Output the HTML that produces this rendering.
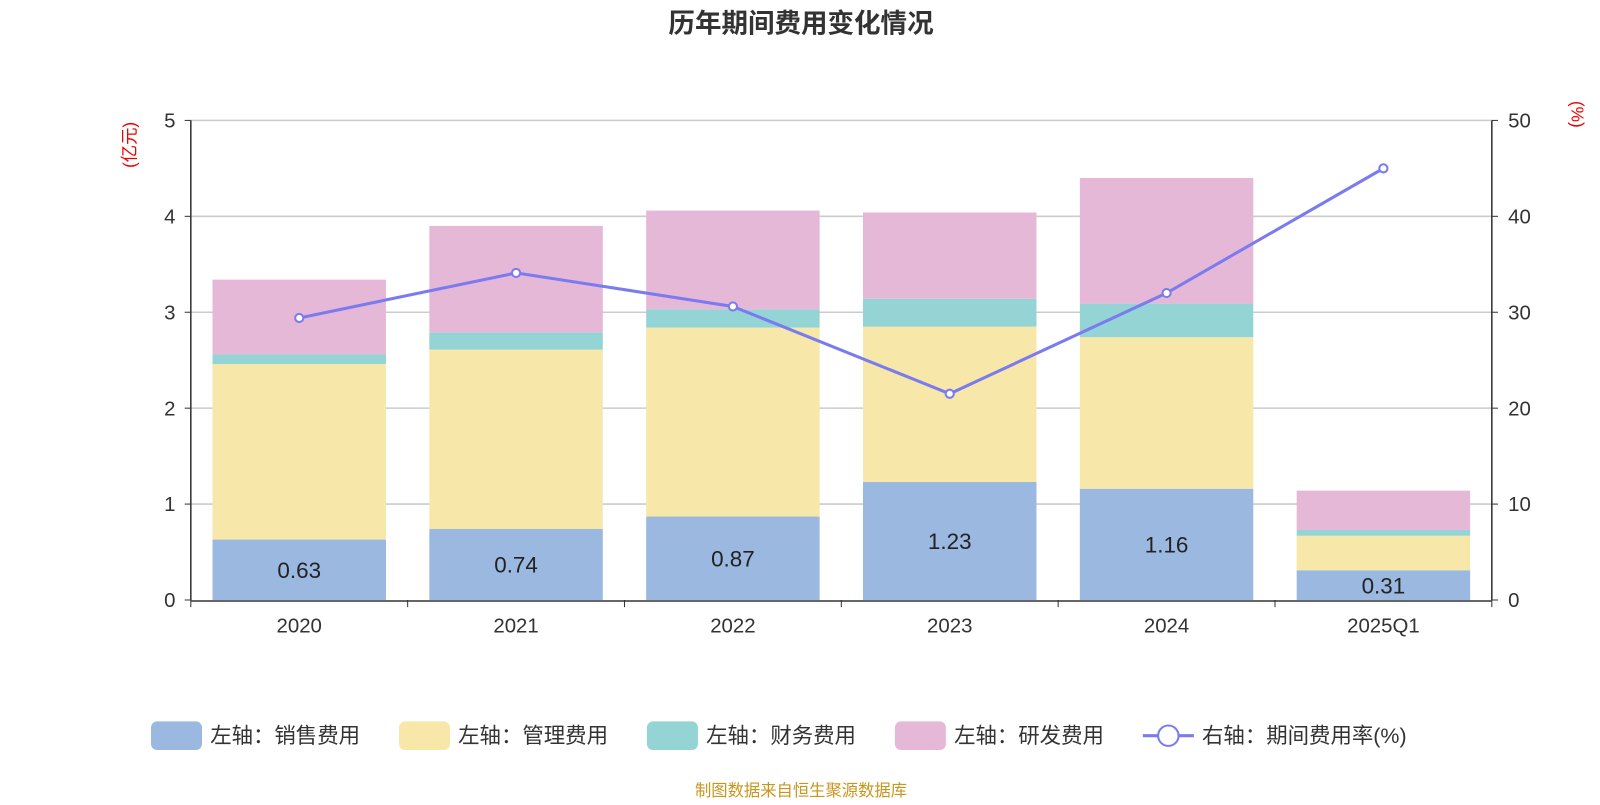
<!DOCTYPE html>
<html><head><meta charset="utf-8">
<style>
body{margin:0;background:#fff;width:1600px;height:800px;overflow:hidden;font-family:"Liberation Sans","Noto Sans CJK SC",sans-serif;}
</style></head>
<body>
<svg id="chart" width="1600" height="800" xmlns="http://www.w3.org/2000/svg" font-family="Liberation Sans, Noto Sans CJK SC, sans-serif">
<g transform="scale(1.0204)">
<text x="785" y="32" text-anchor="middle" font-size="26" font-weight="bold" fill="#333">历年期间费用变化情况</text>
<text transform="translate(133,142) rotate(-90)" text-anchor="middle" font-size="17" fill="#e00">(亿元)</text>
<text transform="translate(1540,112) rotate(90)" text-anchor="middle" font-size="17" fill="#e00">(%)</text>
<g id="grid"></g><g id="bars"></g><g id="line"></g><g id="axes"></g>
<g id="legend"></g>
<text x="785" y="780" text-anchor="middle" font-size="16" fill="#c8961e">制图数据来自恒生聚源数据库</text>
</g>
</svg>
<script>
const categories=["2020","2021","2022","2023","2024","2025Q1"];
const sales=[0.63,0.74,0.87,1.23,1.16,0.31];
const admin=[1.83,1.87,1.97,1.62,1.58,0.36];
const finance=[0.10,0.18,0.19,0.29,0.35,0.06];
const rnd=[0.78,1.11,1.03,0.90,1.31,0.41];
const rate=[29.4,34.1,30.6,21.5,32.0,45.0];
const leftTicks=[0,1,2,3,4,5];
const rightTicks=[0,10,20,30,40,50];
const NS="http://www.w3.org/2000/svg";
const X0=187,X1=1462,Y0=588,Y1=118;
const band=(X1-X0)/categories.length, bw=170;
const yL=v=>Y0-(Y0-Y1)*v/5;
const yR=v=>Y0-(Y0-Y1)*v/50;
const xc=i=>X0+band*(i+0.5);
function mk(tag,attrs,parent,text){const e=document.createElementNS(NS,tag);for(const k in attrs)e.setAttribute(k,attrs[k]);if(text!==undefined)e.textContent=text;document.getElementById(parent).appendChild(e);return e;}
leftTicks.forEach((t,i)=>{
 if(t>0){const g=mk('line',{x1:X0,x2:X1,y1:yL(t),y2:yL(t),stroke:'#ccc','stroke-width':1.5},'grid');
 
 }
 const l=mk('text',{x:172,y:yL(t)+7,'text-anchor':'end','font-size':20,fill:'#333'},'axes',t);
 
 
 mk('line',{x1:X0-6,x2:X0,y1:yL(t),y2:yL(t),stroke:'#333'},'axes');
});
rightTicks.forEach(t=>{
 const l=mk('text',{x:1478,y:yR(t)+7,'font-size':20,fill:'#333'},'axes',t);
 
 
 mk('line',{x1:X1,x2:X1+6,y1:yR(t),y2:yR(t),stroke:'#333'},'axes');
});
mk('line',{x1:X0,x2:X0,y1:Y1,y2:Y0,stroke:'#333','stroke-width':1.5},'axes');
mk('line',{x1:X1,x2:X1,y1:Y1,y2:Y0,stroke:'#333','stroke-width':1.5},'axes');
mk('line',{x1:X0,x2:X1,y1:Y0+1,y2:Y0+1,stroke:'#333','stroke-width':1.5},'axes');
for(let i=0;i<=categories.length;i++)mk('line',{x1:X0+band*i,x2:X0+band*i,y1:Y0,y2:Y0+7,stroke:'#333'},'axes');
const series=[[sales,'#9bb8e0','sales'],[admin,'#f7e7a9','admin'],[finance,'#94d4d4','finance'],[rnd,'#e6b8d8','rnd']];
categories.forEach((c,i)=>{
 const l=mk('text',{x:xc(i),y:620,'text-anchor':'middle','font-size':20,fill:'#333'},'axes',c);
 
 
 let base=0;
 series.forEach(([arr,col,nm])=>{
  const r=mk('rect',{x:xc(i)-bw/2,y:yL(base+arr[i]),width:bw,height:yL(base)-yL(base+arr[i]),fill:col},'bars');
  
  
  base+=arr[i];
 });
 const v=mk('text',{x:xc(i),y:(yL(0)+yL(sales[i]))/2+8,'text-anchor':'middle','font-size':22,fill:'#222'},'bars',sales[i].toFixed(2));
 
 
});
const pl=mk('polyline',{points:rate.map((r,i)=>xc(i)+','+yR(r)).join(' '),fill:'none',stroke:'#7b7bf0','stroke-width':3},'line');


rate.forEach((r,i)=>{const p=mk('circle',{cx:xc(i),cy:yR(r),r:4,fill:'#fff',stroke:'#7b7bf0','stroke-width':2},'line');
 
 });
const leg=[['左轴：销售费用','#9bb8e0',148],['左轴：管理费用','#f7e7a9',391],['左轴：财务费用','#94d4d4',634],['左轴：研发费用','#e6b8d8',877]];
leg.forEach(([t,c,x])=>{
 const g=mk('g',{},'legend');
 
 
 const r=document.createElementNS(NS,'rect');r.setAttribute('x',x);r.setAttribute('y',707);r.setAttribute('width',50);r.setAttribute('height',28);r.setAttribute('rx',6);r.setAttribute('fill',c);g.appendChild(r);
 const tx=document.createElementNS(NS,'text');tx.setAttribute('x',x+58);tx.setAttribute('y',728);tx.setAttribute('font-size',21);tx.setAttribute('fill','#333');tx.textContent=t;g.appendChild(tx);
});
const g=mk('g',{},'legend');


g.innerHTML='<line x1="1120" x2="1170" y1="721" y2="721" stroke="#7b7bf0" stroke-width="3"/><circle cx="1145" cy="721" r="10" fill="#fff" stroke="#7b7bf0" stroke-width="2"/><text x="1178" y="728" font-size="21" fill="#333">右轴：期间费用率(%)</text>';
</script>
</body></html>
